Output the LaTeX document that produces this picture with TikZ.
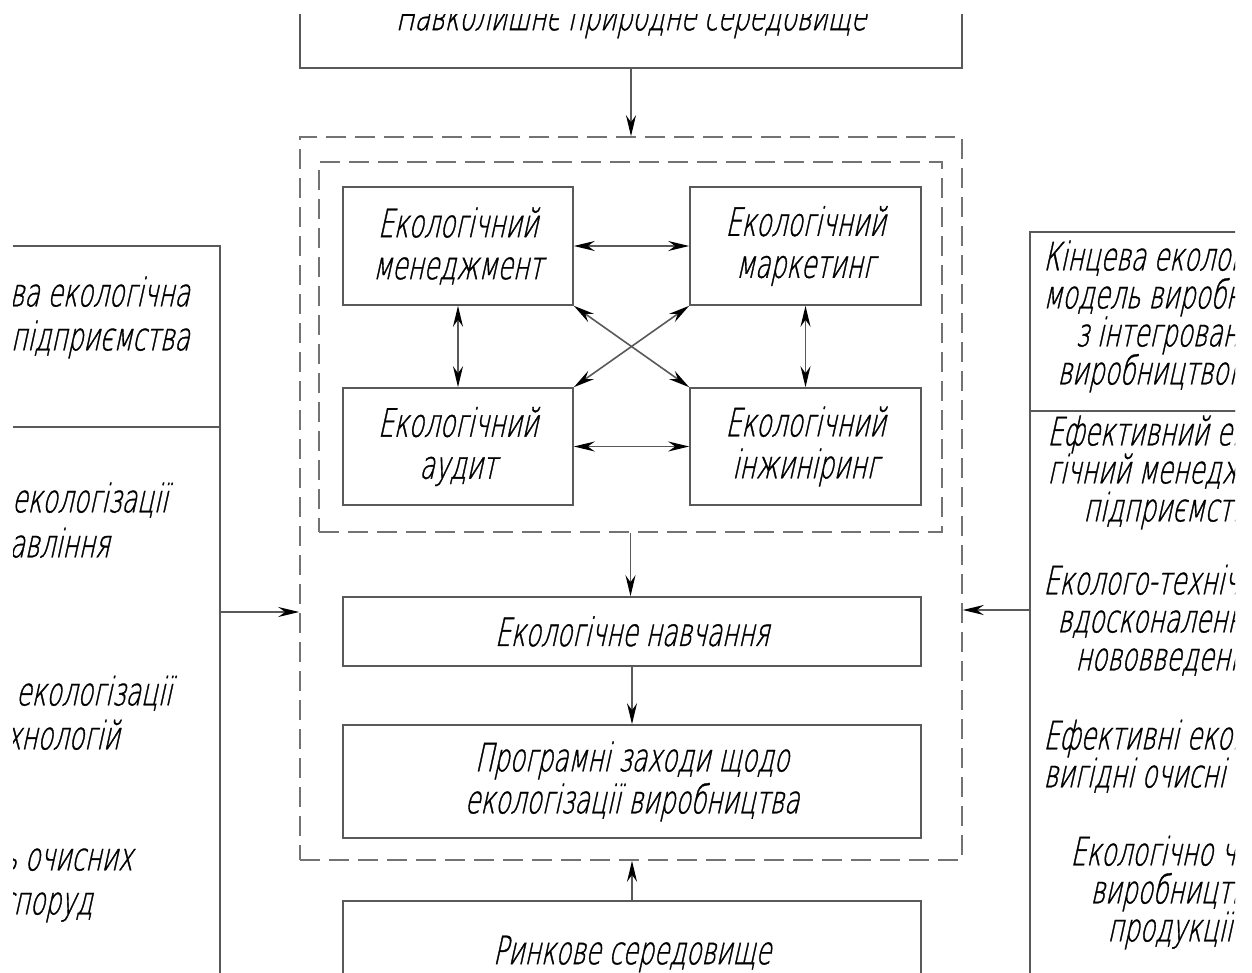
\documentclass[tikz,border=0pt]{standalone}
\usepackage{fontspec}
\newfontfamily\gost[FakeSlant=0.22,FakeStretch=0.64,FakeBold=0.9]{DejaVu Sans ExtraLight}
\usetikzlibrary{arrows.meta}
\tikzset{
  ln/.style={draw=black!65, line width=0.8pt},
  txt/.style={font=\gost\fontsize{19.5}{21}\selectfont, text=black},
  box/.style={ln, txt, rectangle, inner sep=0pt, align=center},
  panel/.style={ln, rectangle, inner sep=0pt},
  dbox/.style={draw=black!55, line width=0.8pt, dash pattern=on 10pt off 4.5pt, rectangle, inner sep=0pt},
  tip/.tip={Stealth[length=10.5pt,width=5pt,inset=3.5pt,color=black]},
  arr/.style={ln, -tip},
  darr/.style={ln, tip-tip},
  lline/.style={txt, inner sep=0pt, anchor=mid east},
  rline/.style={txt, inner sep=0pt, anchor=mid west}
}
\begin{document}
\begin{tikzpicture}[x=0.5pt,y=-0.5pt]
\path[use as bounding box] (0,0) rectangle (1252,973);
\begin{scope}
\clip (13,15) rectangle (1235,973);
% top and bottom environment boxes
\node[box, minimum width=331pt, minimum height=48pt] (env) at (631,20) {Навколишнє природне середовище};
\node[box, minimum width=289pt, minimum height=53pt] (rynk) at (632,954) {Ринкове середовище};
% dashed frames
\node[dbox, minimum width=331pt, minimum height=361.5pt] (outer) at (631,498.5) {};
\node[dbox, minimum width=311.5pt, minimum height=185pt] (inner) at (630.5,347) {};
% four inner boxes
\node[box, minimum width=115pt, minimum height=59pt] (men) at (458,246) {Екологічний\\менеджмент};
\node[box, minimum width=115.5pt, minimum height=59pt] (mark) at (805.5,246) {Екологічний\\маркетинг};
\node[box, minimum width=115pt, minimum height=58.5pt] (aud) at (458,446.5) {Екологічний\\аудит};
\node[box, minimum width=115.5pt, minimum height=58.5pt] (inzh) at (805.5,446.5) {Екологічний\\інжиніринг};
% lower boxes
\node[box, minimum width=289pt, minimum height=34.5pt] (navch) at (632,631.5) {Екологічне навчання};
\node[box, minimum width=289pt, minimum height=56.5pt] (prog) at (632,781.5) {Програмні заходи щодо\\екологізації виробництва};
% side panels
\node[panel, minimum width=210pt, minimum height=90.5pt] (lup) at (10,336.5) {};
\node[panel, minimum width=210pt, minimum height=286.5pt] (llow) at (10,713.5) {};
\node[panel, minimum width=210pt, minimum height=89.5pt] (rup) at (1240,321.5) {};
\node[panel, minimum width=210pt, minimum height=294.5pt] (rlow) at (1240,705.5) {};
% left texts
\node[lline] (l1a) at (190,302) {Початкова екологічна};
\node[lline] (l1b) at (190,346) {модель підприємства};
\node[lline] (l2a) at (168,508) {Проблеми екологізації};
\node[lline] (l2b) at (110,553) {управління};
\node[lline] (l3a) at (172,701) {Проблеми екологізації};
\node[lline] (l3b) at (120,745) {технологій};
\node[lline] (l4a) at (133,866) {Відсутність очисних};
\node[lline] (l4b) at (93,910) {споруд};
% right texts
\node[rline] (r1a) at (1043,266) {Кінцева екологічна};
\node[rline] (r1b) at (1043,304) {модель виробництва};
\node[rline] (r1c) at (1075,342) {з інтегрованим};
\node[rline] (r1d) at (1057,380) {виробництвом};
\node[rline] (r2a) at (1047,441) {Ефективний еколо-};
\node[rline] (r2b) at (1047,479) {гічний менеджмент};
\node[rline] (r2c) at (1083,517) {підприємства};
\node[rline] (r3a) at (1043,590) {Еколого-технічні};
\node[rline] (r3b) at (1057,628) {вдосконалення,};
\node[rline] (r3c) at (1075,666) {нововведення};
\node[rline] (r4a) at (1043,745) {Ефективні економічно};
\node[rline] (r4b) at (1043,783) {вигідні очисні споруди};
\node[rline] (r5a) at (1070,861) {Екологічно чисте};
\node[rline] (r5b) at (1090,899) {виробництво};
\node[rline] (r5c) at (1107,937) {продукції};
% connectors
\draw[arr] (env.south) -- (outer.north);
\draw[arr] (rynk.north) -- (rynk.north |- outer.south);
\draw[arr] (inner.south) -- (inner.south |- navch.north);
\draw[arr] (navch.south) -- (prog.north);
\draw[darr] (men.east) -- (mark.west);
\draw[darr] (aud.east) -- (inzh.west);
\draw[darr] (men.south) -- (aud.north);
\draw[darr] (mark.south) -- (inzh.north);
\draw[darr] (men.south east) -- (inzh.north west);
\draw[darr] (aud.north east) -- (mark.south west);
\coordinate (lp) at (220,612);
\coordinate (rp) at (1030,610);
\draw[arr] (lp) -- (lp -| outer.west);
\draw[arr] (rp) -- (rp -| outer.east);
\end{scope}
\end{tikzpicture}
\end{document}
